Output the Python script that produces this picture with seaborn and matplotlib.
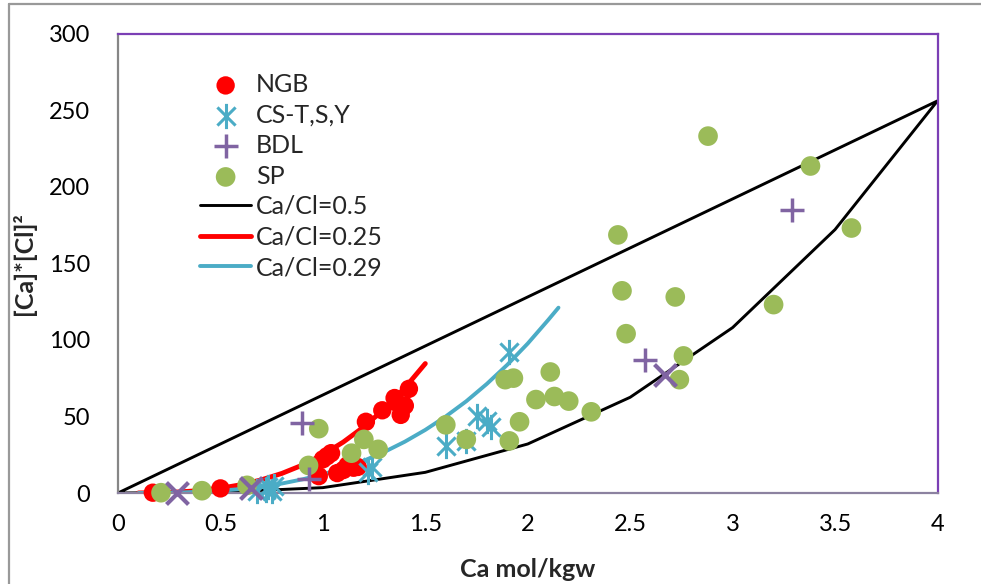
import numpy as np
import pandas as pd
import matplotlib
matplotlib.use("Agg")
import matplotlib.pyplot as plt
from matplotlib.path import Path
from matplotlib.lines import Line2D
import seaborn as sns

# ---------------- data ----------------
ngb_x = [0.17, 0.50, 0.98, 1.00, 1.02, 1.04, 1.07, 1.10, 1.12, 1.15, 1.17, 1.21, 1.29, 1.35, 1.36, 1.38, 1.40, 1.42]
ngb_y = [0.2, 3.0, 11.0, 22.0, 24.0, 26.0, 13.0, 15.0, 18.0, 16.5, 17.0, 46.5, 54.0, 62.0, 59.0, 51.0, 57.0, 68.0]

cs_x = [0.68, 0.72, 0.73, 0.76, 0.75, 1.22, 1.24, 1.60, 1.70, 1.75, 1.80, 1.82, 1.91]
cs_y = [1.0, 2.0, 4.0, 4.5, 1.5, 14.0, 17.0, 31.0, 34.0, 50.0, 47.0, 43.0, 92.0]

bdl_x = [0.90, 0.93, 2.57, 3.29]
bdl_y = [45.5, 9.0, 87.0, 184.5]

bdl2_x = [0.29, 0.65, 2.67]
bdl2_y = [0.0, 3.5, 77.0]

sp_x = [0.21, 0.41, 0.63, 0.93, 0.98, 1.14, 1.20, 1.27, 1.60, 1.70, 1.89, 1.93, 1.91, 1.96,
        2.04, 2.11, 2.13, 2.20, 2.31, 2.44, 2.46, 2.48, 2.72, 2.74, 2.76, 2.88, 3.20, 3.38, 3.58]
sp_y = [0.2, 1.5, 5.0, 18.0, 42.0, 26.0, 35.0, 28.5, 44.5, 35.0, 74.0, 75.0, 34.0, 46.5,
        61.0, 79.0, 63.0, 60.0, 53.0, 168.5, 132.0, 104.0, 128.0, 74.0, 89.5, 233.0, 123.0, 213.5, 173.0]

line05_x = [0.0, 0.5, 1.0, 1.5, 2.0, 2.5, 3.0, 3.5, 4.0, 0.0]
line05_y = [0.0, 0.5, 3.5, 13.5, 32.0, 62.5, 108.0, 172.0, 256.0, 0.0]

line025_x = [0.10, 0.20, 0.30, 0.40, 0.50, 0.60, 0.70, 0.80, 0.90, 1.00, 1.10, 1.20, 1.30, 1.40, 1.50]
line025_y = [0.03, 0.2, 0.7, 1.6, 3.1, 5.4, 8.6, 12.8, 18.2, 25.0, 33.3, 43.2, 54.9, 68.6, 84.5]

line029_x = [0.10, 0.20, 0.30, 0.40, 0.50, 0.60, 0.70, 0.80, 0.90, 1.00, 1.10, 1.20, 1.30,
             1.40, 1.50, 1.60, 1.70, 1.80, 1.90, 2.00, 2.10, 2.15]
line029_y = [0.01, 0.1, 0.33, 0.8, 1.5, 2.6, 4.2, 6.2, 8.9, 12.2, 16.2, 21.1, 26.8,
             33.5, 41.2, 50.0, 59.9, 71.2, 83.7, 97.6, 113.0, 121.0]

x_ticks = [0, 0.5, 1, 1.5, 2, 2.5, 3, 3.5, 4]
x_tick_labels = ["0", "0.5", "1", "1.5", "2", "2.5", "3", "3.5", "4"]
y_ticks = [0, 50, 100, 150, 200, 250, 300]
y_tick_labels = ["0", "50", "100", "150", "200", "250", "300"]

# ---------------- style ----------------
sns.set_style("white")
plt.rcParams['font.family'] = ['Lato', 'DejaVu Sans']

C_RED = "#FF0000"
C_CYAN = "#4BACC6"
C_PURPLE = "#8064A2"
C_GREEN = "#9BBB59"

star = Path([(0, -1), (0, 1), (-0.72, -0.72), (0.72, 0.72), (-0.72, 0.72), (0.72, -0.72)],
            [Path.MOVETO, Path.LINETO, Path.MOVETO, Path.LINETO, Path.MOVETO, Path.LINETO])

fig = plt.figure(figsize=(9.81, 5.84), dpi=100)
ax = fig.add_axes([118 / 981, 1 - 493 / 584, (937.5 - 118) / 981, (493 - 33.5) / 584])

# lines
sns.lineplot(x=line05_x, y=line05_y, ax=ax, color="black", lw=2.1, sort=False,
             estimator=None, label="Ca/Cl=0.5", zorder=2)
sns.lineplot(x=line025_x, y=line025_y, ax=ax, color=C_RED, lw=3.5, sort=False,
             estimator=None, label="Ca/Cl=0.25", zorder=2, solid_capstyle='round')
sns.lineplot(x=line029_x, y=line029_y, ax=ax, color=C_CYAN, lw=2.8, sort=False,
             estimator=None, label="Ca/Cl=0.29", zorder=2, solid_capstyle='round')

# scatter
sns.scatterplot(x=ngb_x, y=ngb_y, ax=ax, color=C_RED, s=175, marker='o', edgecolor='none',
                label="NGB", zorder=3, clip_on=False)
sns.scatterplot(x=cs_x, y=cs_y, ax=ax, color=C_CYAN, s=330, marker=star, linewidth=2.2,
                edgecolor=C_CYAN, label="CS-T,S,Y", zorder=4, clip_on=False)
sns.scatterplot(x=sp_x, y=sp_y, ax=ax, color=C_GREEN, s=200, marker='o', edgecolor='none',
                label="SP", zorder=5, clip_on=False)
sns.scatterplot(x=bdl_x, y=bdl_y, ax=ax, color=C_PURPLE, s=290, marker='+', linewidth=2.5,
                label="BDL", zorder=6, clip_on=False)
sns.scatterplot(x=bdl2_x, y=bdl2_y, ax=ax, color=C_PURPLE, s=250, marker='x', linewidth=3.0,
                zorder=6, clip_on=False)

# axes
ax.set_xlim(0, 4)
ax.set_ylim(0, 300)
ax.set_xticks(x_ticks)
ax.set_xticklabels(x_tick_labels)
ax.set_yticks(y_ticks)
ax.set_yticklabels(y_tick_labels)
ax.tick_params(axis='both', which='major', direction='out', length=8, width=1.2,
               color='#868686', labelsize=17, labelcolor='black')
ax.tick_params(axis='x', pad=7)
ax.tick_params(axis='y', pad=12)
ax.spines['left'].set_color('#868686')
ax.spines['bottom'].set_color('#8C82A0')
ax.spines['top'].set_color('#7B3FB5')
ax.spines['right'].set_color('#7B3FB5')
for sp in ax.spines.values():
    sp.set_linewidth(1.6)
ax.grid(False)

ax.set_xlabel("Ca mol/kgw", fontsize=18, fontweight='bold', labelpad=17)
ax.set_ylabel("[Ca]*[Cl]²", fontsize=18, fontweight='bold', labelpad=9)

# legend
handles, labels = ax.get_legend_handles_labels()
order = ["NGB", "CS-T,S,Y", "BDL", "SP", "Ca/Cl=0.5", "Ca/Cl=0.25", "Ca/Cl=0.29"]
hmap = dict(zip(labels, handles))
ax.legend([hmap[k] for k in order], order, loc='upper left',
          bbox_to_anchor=(200 / 981, 1 - 73 / 584), bbox_transform=fig.transFigure,
          frameon=False, fontsize=18, handlelength=2.05, handletextpad=0.2,
          labelspacing=0.3, borderpad=0, borderaxespad=0)

# outer chart border (left and top visible)
fig.add_artist(Line2D([8.5 / 981, 8.5 / 981], [0, 1 - 4 / 584], transform=fig.transFigure,
                      color='#999999', lw=1.6))
fig.add_artist(Line2D([8.5 / 981, 1], [1 - 4 / 584, 1 - 4 / 584], transform=fig.transFigure,
                      color='#999999', lw=1.6))

fig.savefig("out.png", dpi=100)
